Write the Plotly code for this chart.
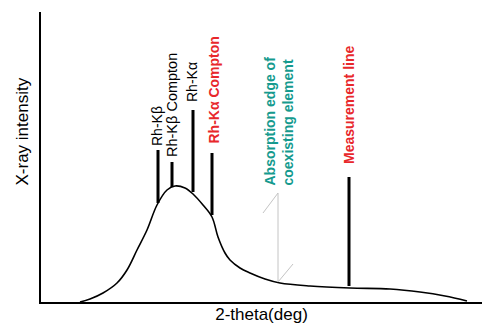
import plotly.graph_objects as go

# Spectrum background curve (arbitrary units)
curve_x = [39, 49, 62, 76, 86, 96, 106, 116, 126, 134, 144, 152, 162, 171, 177, 184, 189,
           199, 209, 224, 239, 269, 309, 349, 379, 404, 426]
curve_y = [0, 3, 9, 19, 32, 52, 72, 97, 112, 116, 114, 108, 97, 85, 65, 49, 42,
           34, 29, 23, 19, 16, 14, 13, 10, 6, 1]

# Peak lines
peak_names = ["Rh-Kβ", "Rh-Kβ Compton", "Rh-Kα", "<b>Rh-Kα Compton</b>", "<b>Measurement line</b>"]
peak_x = [117, 131, 152, 171, 308]
peak_bottom = [99, 115, 110, 87, 16]
peak_top = [152, 140, 192, 149, 125]
label_bottom = [155, 144, 199, 157, 137]
label_x = [116, 131, 151, 172, 308]

RED = "#e8272b"
TEAL = "#159a8e"
label_colors = ["black", "black", "black", RED, RED]
label_sizes = [14, 14.5, 14, 14, 14]

# Absorption edge marker
edge_x = 237
edge_bottom = 20
edge_top = 109
edge_label = "<b>Absorption edge of<br>coexisting element</b>"
edge_label_bottom = 115
diag_upper_x = [222, 237]
diag_upper_y = [89, 109]
diag_lower_x = [237, 252]
diag_lower_y = [20, 38]

# Axis titles
x_title = "2-theta(deg)"
y_title = "X-ray intensity"
y_title_center = 170

fig = go.Figure()
fig.add_trace(go.Scatter(x=curve_x, y=curve_y, mode="lines",
                         line=dict(color="black", width=1.6, shape="spline", smoothing=1.0),
                         hoverinfo="skip"))
for px, b, t in zip(peak_x, peak_bottom, peak_top):
    fig.add_trace(go.Scatter(x=[px, px], y=[b, t], mode="lines",
                             line=dict(color="black", width=3), hoverinfo="skip"))

fig.add_trace(go.Scatter(x=[edge_x, edge_x], y=[edge_bottom, edge_top], mode="lines",
                         line=dict(color="#c4c4c4", width=1), hoverinfo="skip"))
fig.add_trace(go.Scatter(x=diag_upper_x, y=diag_upper_y, mode="lines",
                         line=dict(color="#c4c4c4", width=1), hoverinfo="skip"))
fig.add_trace(go.Scatter(x=diag_lower_x, y=diag_lower_y, mode="lines",
                         line=dict(color="#c4c4c4", width=1), hoverinfo="skip"))

FONT = "Liberation Sans, Arial, sans-serif"
for name, lx, lb, c, s in zip(peak_names, label_x, label_bottom, label_colors, label_sizes):
    fig.add_annotation(x=lx, y=lb, text=name, textangle=-90, showarrow=False,
                       xanchor="center", yanchor="bottom",
                       font=dict(color=c, size=s, family=FONT), borderpad=0)
fig.add_annotation(x=edge_x, y=edge_label_bottom, text=edge_label, textangle=-90,
                   showarrow=False, xanchor="center", yanchor="bottom", align="left",
                   font=dict(color=TEAL, size=14, family=FONT), borderpad=0)

# Y axis title placed off-centre as in the original
fig.add_annotation(xref="paper", x=0, xshift=-9, yref="y", y=y_title_center,
                   text=y_title, textangle=-90, showarrow=False,
                   xanchor="right", yanchor="middle",
                   font=dict(color="black", size=17, family=FONT), borderpad=0)

fig.update_layout(
    width=501, height=335,
    margin=dict(l=41, r=19, t=12, b=33),
    paper_bgcolor="white", plot_bgcolor="white",
    showlegend=False,
    font=dict(family=FONT, color="black"),
    xaxis=dict(range=[0, 441], showgrid=False, zeroline=False, showticklabels=False,
               ticks="", showline=True, linecolor="black", linewidth=1.5,
               title=dict(text=x_title, font=dict(size=17), standoff=5),
               fixedrange=True),
    yaxis=dict(range=[0, 290], showgrid=False, zeroline=False, showticklabels=False,
               ticks="", showline=True, linecolor="black", linewidth=1.5,
               fixedrange=True),
)
fig.write_html("out.html", config={"displayModeBar": False})
